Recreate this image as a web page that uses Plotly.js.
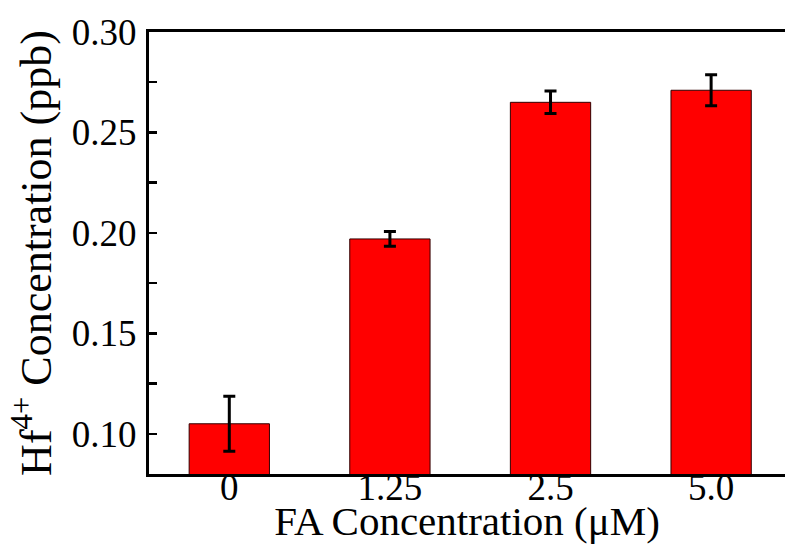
<!DOCTYPE html>
<html>
<head>
<meta charset="utf-8">
<script src="https://cdn.plot.ly/plotly-3.0.1.min.js"></script>
<style>html,body{margin:0;padding:0;background:#fff;}#chart{width:785px;height:544px;}</style>
</head>
<body>
<div id="chart"></div>
<script>
var categories = ['0', '1.25', '2.5', '5.0'];
var hfConcentration = [0.105, 0.197, 0.265, 0.271];
var errorValues = [0.0137, 0.0037, 0.0056, 0.0077];
var yTickValues = [0.10, 0.15, 0.20, 0.25, 0.30];

var font = 'Liberation Serif, Times New Roman, serif';

var trace = {
  type: 'bar',
  x: categories,
  y: hfConcentration,
  marker: {color: '#ff0000', line: {color: '#300000', width: 1}},
  error_y: {type: 'data', array: errorValues, visible: true, color: '#000', thickness: 3, width: 6},
  width: 0.5,
  hoverinfo: 'skip'
};

var layout = {
  width: 785, height: 544,
  margin: {l: 149, r: 0, t: 32, b: 70},
  paper_bgcolor: '#fff', plot_bgcolor: '#fff',
  showlegend: false,
  font: {family: font, color: '#000'},
  xaxis: {
    type: 'category',
    range: [-0.5, 3.46],
    showline: true, linewidth: 3, linecolor: '#000',
    mirror: true,
    ticks: '',
    showgrid: false, zeroline: false,
    ticklabelstandoff: -21,
    tickfont: {family: font, size: 37, color: '#000'},
    title: {text: 'FA Concentration (\u03BCM)', font: {family: font, size: 41, color: '#000'}, standoff: 0},
    automargin: false
  },
  yaxis: {
    range: [0.08, 0.30],
    tickvals: yTickValues,
    tickformat: '.2f',
    ticks: 'inside', ticklen: 8, tickwidth: 2.5, tickcolor: '#000',
    minor: {dtick: 0.025, tick0: 0, ticks: 'inside', ticklen: 8, tickwidth: 2.5, tickcolor: '#000', showgrid: false},
    showline: true, linewidth: 3, linecolor: '#000',
    showgrid: false, zeroline: false,
    ticklabelstandoff: 2,
    tickfont: {family: font, size: 37, color: '#000'},
    title: {text: 'Hf<sup>4+</sup> Concentration (ppb)', font: {family: font, size: 44, color: '#000'}, standoff: 7},
    automargin: false
  }
};

Plotly.newPlot('chart', [trace], layout, {displayModeBar: false, staticPlot: true});
</script>
</body>
</html>
